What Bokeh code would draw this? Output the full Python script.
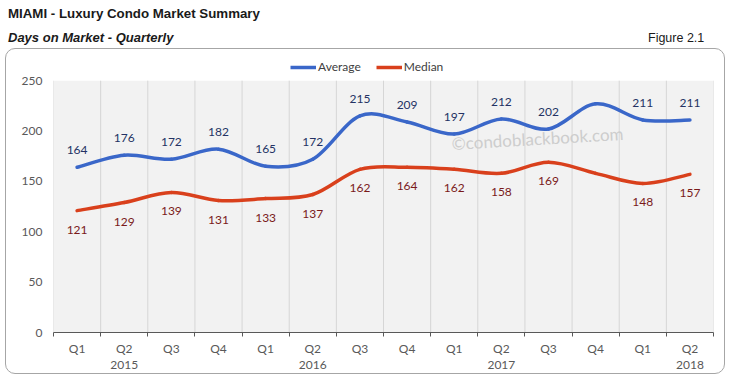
from bokeh.plotting import figure
from bokeh.models import (Range1d, FixedTicker, LinearAxis, Label, Div,
                          Legend, LegendItem, ColumnDataSource, BoxAnnotation)
from bokeh.core.properties import value
from bokeh.layouts import column
from bokeh.embed import file_html
from bokeh.resources import INLINE

# ---- data ----
quarters = ["Q1", "Q2", "Q3", "Q4", "Q1", "Q2", "Q3", "Q4",
            "Q1", "Q2", "Q3", "Q4", "Q1", "Q2"]
years = ["2015", "2015", "2015", "2015", "2016", "2016", "2016", "2016",
         "2017", "2017", "2017", "2017", "2018", "2018"]
average = [164, 176, 172, 182, 165, 172, 215, 209, 197, 212, 202, 227, 211, 211]
median = [121, 129, 139, 131, 133, 137, 162, 164, 162, 158, 169, 158, 148, 157]
show_label = [True] * 11 + [False] + [True] * 2
y_ticks = [0, 50, 100, 150, 200, 250]

LABEL_FONT = "Lato"
AVG_COLOR = "#3A67C9"
MED_COLOR = "#D9401C"

n = len(quarters)
xc = [i + 0.5 for i in range(n)]
bounds = list(range(n + 1))
y_top = y_ticks[-1]

# frame extends 25 px above the 250 line to hold the legend
p = figure(width=720, height=326, output_backend="svg", toolbar_location=None,
           x_range=Range1d(0, n), y_range=Range1d(0, y_top + 25),
           min_border_left=47, min_border_right=13, min_border_top=6,
           min_border_bottom=43, margin=(0, 0, 0, 5))
p.background_fill_color = "white"
p.border_fill_alpha = 0
p.outline_line_color = None
p.styles = {"border": "1px solid #A6A6A6", "border-radius": "10px",
            "box-sizing": "border-box"}

# plot-area background and vertical gridlines (only up to the 250 line)
p.add_layout(BoxAnnotation(bottom=0, top=y_top, fill_color="#F2F2F2",
                           fill_alpha=1, line_color=None, level="image"))
p.segment(x0=bounds, y0=[0] * len(bounds), x1=bounds, y1=[y_top] * len(bounds),
          line_color="#D6D6D6", line_width=1)


def bezier_source(xs, ys):
    m = len(xs)
    d = dict(x0=[], y0=[], x1=[], y1=[], cx0=[], cy0=[], cx1=[], cy1=[])
    for i in range(m - 1):
        pm = i - 1 if i > 0 else i
        pp = i + 2 if i + 2 < m else i + 1
        d["x0"].append(xs[i]); d["y0"].append(ys[i])
        d["x1"].append(xs[i + 1]); d["y1"].append(ys[i + 1])
        d["cx0"].append(xs[i] + (xs[i + 1] - xs[pm]) / 6)
        d["cy0"].append(ys[i] + (ys[i + 1] - ys[pm]) / 6)
        d["cx1"].append(xs[i + 1] - (xs[pp] - xs[i]) / 6)
        d["cy1"].append(ys[i + 1] - (ys[pp] - ys[i]) / 6)
    return ColumnDataSource(d)


p.bezier(x0="x0", y0="y0", x1="x1", y1="y1", cx0="cx0", cy0="cy0",
         cx1="cx1", cy1="cy1", source=bezier_source(xc, average),
         line_color=AVG_COLOR, line_width=3.5, line_cap="round")
p.bezier(x0="x0", y0="y0", x1="x1", y1="y1", cx0="cx0", cy0="cy0",
         cx1="cx1", cy1="cy1", source=bezier_source(xc, median),
         line_color=MED_COLOR, line_width=3.5, line_cap="round")

# data labels
avg_txt = [str(v) if s else "" for v, s in zip(average, show_label)]
med_txt = [str(v) if s else "" for v, s in zip(median, show_label)]
p.text(x=xc, y=average, text=avg_txt, y_offset=-17, text_align="center",
       text_baseline="middle", text_font=value(LABEL_FONT),
       text_font_size="12px", text_color="#243264")
p.text(x=xc, y=median, text=med_txt, y_offset=19, text_align="center",
       text_baseline="middle", text_font=value(LABEL_FONT),
       text_font_size="12px", text_color="#7A1A1A")

# legend (line renderers holding no visible point)
nan = float("nan")
r_avg = p.line(x=[nan], y=[nan], line_color=AVG_COLOR, line_width=3.5)
r_med = p.line(x=[nan], y=[nan], line_color=MED_COLOR, line_width=3.5)
legend = Legend(items=[LegendItem(label="Average", renderers=[r_avg]),
                       LegendItem(label="Median", renderers=[r_med])],
                location=(237, 258), orientation="horizontal", padding=0,
                margin=0, spacing=15, glyph_width=26, glyph_height=14,
                label_standoff=2, label_text_font=LABEL_FONT,
                label_text_font_size="12px", label_text_color="#404040",
                background_fill_alpha=0, border_line_alpha=0)
p.add_layout(legend)

# axes
xa = p.xaxis[0]
xa.ticker = FixedTicker(ticks=xc, minor_ticks=bounds)
xa.major_label_overrides = {c: q for c, q in zip(xc, quarters)}
xa.major_tick_line_color = None
xa.major_tick_out = 0
xa.major_tick_in = 0
xa.minor_tick_out = 4
xa.minor_tick_in = 0
xa.minor_tick_line_color = "#595959"
xa.axis_line_color = "#595959"
xa.major_label_standoff = 4
xa.major_label_text_font = LABEL_FONT
xa.major_label_text_font_size = "12px"
xa.major_label_text_color = "#595959"

year_pos = [c for c, q in zip(xc, quarters) if q == "Q2"]
year_lab = [y for y, q in zip(years, quarters) if q == "Q2"]
ya2 = LinearAxis(ticker=FixedTicker(ticks=year_pos, minor_ticks=[]),
                 major_label_overrides=dict(zip(year_pos, year_lab)),
                 axis_line_color=None, major_tick_line_color=None,
                 minor_tick_line_color=None, major_label_standoff=2,
                 major_tick_out=0, major_tick_in=0,
                 major_label_text_font=LABEL_FONT,
                 major_label_text_font_size="12px",
                 major_label_text_color="#595959")
p.add_layout(ya2, "below")

ya = p.yaxis[0]
ya.ticker = FixedTicker(ticks=y_ticks)
ya.axis_line_color = None
ya.major_tick_line_color = None
ya.minor_tick_line_color = None
ya.major_tick_out = 0
ya.major_tick_in = 0
ya.major_label_standoff = 11
ya.major_label_text_font = LABEL_FONT
ya.major_label_text_font_size = "12px"
ya.major_label_text_color = "#595959"

p.xgrid.visible = False
p.ygrid.visible = False

# watermark (inside frame; screen units relative to frame)
p.add_layout(Label(x=484, y=194, x_units="screen", y_units="screen",
                   text="\u00a9condoblackbook.com", text_font=LABEL_FONT,
                   text_font_size="17px", text_baseline="middle",
                   text_align="center", angle=0.058, text_color="#CDCDCD"))

header_html = (
    '<div style="position:relative;width:733px;height:48px;'
    'font-family:\'Liberation Sans\',Arial,sans-serif;color:#1A1A1A;">'
    '<div style="position:absolute;left:8px;top:5px;font-weight:bold;'
    'font-size:13.3px;white-space:nowrap;">MIAMI - Luxury Condo Market Summary</div>'
    '<div style="position:absolute;left:8px;top:29px;font-weight:bold;'
    'font-style:italic;font-size:13px;white-space:nowrap;">Days on Market - Quarterly</div>'
    '<div style="position:absolute;left:648px;top:30px;font-size:12.5px;'
    'white-space:nowrap;">Figure 2.1</div>'
    '</div>'
)
header = Div(text=header_html, width=733, height=48, margin=(0, 0, 0, 0))

layout = column(header, p, spacing=0, margin=(0, 0, 0, 0))

open("out.html", "w").write(file_html(layout, INLINE))
